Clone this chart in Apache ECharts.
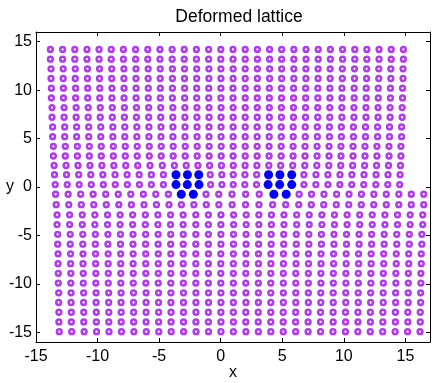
<!DOCTYPE html>
<html>
<head>
<meta charset="utf-8">
<script src="https://cdn.jsdelivr.net/npm/echarts@6/dist/echarts.min.js"></script>
<style>
  html, body { margin: 0; padding: 0; background: #fff; }
  #main { width: 436px; height: 383px; }
</style>
</head>
<body>
<div id="main"></div>
<script>
// Tick labels
const xTicks = [-15, -10, -5, 0, 5, 10, 15];
const yTicks = [-15, -10, -5, 0, 5, 10, 15];

// Row heights, top half then bottom half
const upperRowsY = [14.2, 13.2, 12.2, 11.2, 10.2, 9.2, 8.2, 7.2, 6.2, 5.2, 4.2, 3.2, 2.22, 1.27, 0.25];
const lowerRowsY = [-0.75, -1.82, -2.87, -3.88, -4.89, -5.9, -6.9, -7.91, -8.91, -9.92, -10.92, -11.92, -12.93, -13.93, -14.93];

// Atom x positions in each row
const upperRowsX = [
  [-13.83,-12.84,-11.85,-10.86,-9.88,-8.89,-7.90,-6.91,-5.92,-4.93,-3.94,-2.96,-1.97,-0.98,0.01,1.00,1.99,2.98,3.97,4.95,5.94,6.93,7.92,8.91,9.90,10.89,11.87,12.86,13.85,14.84],
  [-13.83,-12.84,-11.85,-10.86,-9.88,-8.89,-7.90,-6.91,-5.92,-4.93,-3.94,-2.96,-1.97,-0.98,0.01,1.00,1.99,2.98,3.97,4.95,5.94,6.93,7.92,8.91,9.90,10.89,11.87,12.86,13.85,14.84],
  [-13.78,-12.79,-11.81,-10.82,-9.84,-8.85,-7.86,-6.88,-5.89,-4.91,-3.92,-2.94,-1.95,-0.96,0.02,1.01,1.99,2.98,3.97,4.95,5.94,6.92,7.91,8.89,9.88,10.87,11.85,12.84,13.82,14.81],
  [-13.78,-12.79,-11.81,-10.82,-9.84,-8.85,-7.86,-6.88,-5.89,-4.91,-3.92,-2.94,-1.95,-0.96,0.02,1.01,1.99,2.98,3.97,4.95,5.94,6.92,7.91,8.89,9.88,10.87,11.85,12.84,13.82,14.81],
  [-13.75,-12.77,-11.78,-10.80,-9.82,-8.83,-7.85,-6.87,-5.88,-4.90,-3.92,-2.93,-1.95,-0.97,0.02,1.00,1.99,2.97,3.95,4.94,5.92,6.90,7.89,8.87,9.85,10.84,11.82,12.80,13.79,14.77],
  [-13.75,-12.77,-11.78,-10.80,-9.82,-8.83,-7.85,-6.87,-5.88,-4.90,-3.92,-2.93,-1.95,-0.97,0.02,1.00,1.99,2.97,3.95,4.94,5.92,6.90,7.89,8.87,9.85,10.84,11.82,12.80,13.79,14.77],
  [-13.70,-12.72,-11.74,-10.76,-9.78,-8.80,-7.82,-6.84,-5.85,-4.87,-3.89,-2.91,-1.93,-0.95,0.03,1.01,1.99,2.97,3.95,4.93,5.91,6.89,7.88,8.86,9.84,10.82,11.80,12.78,13.76,14.74],
  [-13.70,-12.72,-11.74,-10.76,-9.78,-8.80,-7.82,-6.84,-5.85,-4.87,-3.89,-2.91,-1.93,-0.95,0.03,1.01,1.99,2.97,3.95,4.93,5.91,6.89,7.88,8.86,9.84,10.82,11.80,12.78,13.76,14.74],
  [-13.65,-12.67,-11.70,-10.72,-9.74,-8.76,-7.79,-6.81,-5.83,-4.85,-3.88,-2.90,-1.92,-0.95,0.03,1.01,1.99,2.96,3.94,4.92,5.89,6.87,7.85,8.83,9.80,10.78,11.76,12.74,13.71,14.69],
  [-13.65,-12.67,-11.70,-10.72,-9.74,-8.76,-7.79,-6.81,-5.83,-4.85,-3.88,-2.90,-1.92,-0.95,0.03,1.01,1.99,2.96,3.94,4.92,5.89,6.87,7.85,8.83,9.80,10.78,11.76,12.74,13.71,14.69],
  [-13.59,-12.62,-11.64,-10.67,-9.70,-8.72,-7.75,-6.78,-5.80,-4.83,-3.86,-2.88,-1.91,-0.94,0.04,1.01,1.99,2.96,3.93,4.91,5.88,6.85,7.83,8.80,9.77,10.75,11.72,12.69,13.67,14.64],
  [-13.59,-12.62,-11.64,-10.67,-9.70,-8.72,-7.75,-6.78,-5.80,-4.83,-3.86,-2.88,-1.91,-0.94,0.04,1.01,1.99,2.96,3.93,4.91,5.88,6.85,7.83,8.80,9.77,10.75,11.72,12.69,13.67,14.64],
  [-13.53,-12.56,-11.59,-10.62,-9.65,-8.68,-7.71,-6.74,-5.74,-4.74,-3.76,-2.80,-1.85,-0.90,0.06,1.02,1.98,2.94,3.91,4.87,5.85,6.83,7.81,8.78,9.75,10.72,11.69,12.66,13.63,14.60],
  [-13.50,-12.52,-11.53,-10.55,-9.57,-8.58,-7.60,-6.62,-5.63,-4.65,-3.63,-2.70,-1.78,-0.85,0.09,1.02,1.97,2.92,3.89,4.81,5.77,6.76,7.74,8.71,9.69,10.66,11.64,12.62,13.59,14.57],
  [-13.44,-12.46,-11.49,-10.51,-9.53,-8.56,-7.58,-6.60,-5.63,-4.65,-3.63,-2.71,-1.76,-0.82,0.10,1.02,1.96,2.91,3.85,4.79,5.77,6.76,7.73,8.71,9.68,10.65,11.62,12.60,13.57,14.54]
];
const lowerRowsX = [
  [-13.41,-12.39,-11.37,-10.36,-9.34,-8.32,-7.30,-6.28,-5.27,-4.25,-3.20,-2.22,-1.19,-0.16,0.92,2.03,3.13,4.32,5.32,6.37,7.38,8.39,9.41,10.42,11.43,12.44,13.45,14.47,15.48,16.49],
  [-13.36,-12.34,-11.32,-10.31,-9.29,-8.27,-7.25,-6.23,-5.22,-4.20,-3.19,-2.18,-1.17,-0.15,0.93,2.02,3.11,4.22,5.28,6.34,7.36,8.37,9.39,10.40,11.42,12.43,13.45,14.46,15.48,16.49],
  [-13.29,-12.27,-11.24,-10.22,-9.19,-8.17,-7.15,-6.12,-5.10,-4.07,-3.05,-2.02,-1.00,0.02,1.05,2.07,3.10,4.12,5.14,6.17,7.19,8.22,9.24,10.27,11.29,12.31,13.34,14.36,15.39,16.41],
  [-13.29,-12.27,-11.24,-10.22,-9.19,-8.17,-7.15,-6.12,-5.10,-4.07,-3.05,-2.02,-1.00,0.02,1.05,2.07,3.10,4.12,5.14,6.17,7.19,8.22,9.24,10.27,11.29,12.31,13.34,14.36,15.39,16.41],
  [-13.24,-12.22,-11.20,-10.18,-9.16,-8.14,-7.12,-6.10,-5.08,-4.06,-3.04,-2.02,-1.00,0.02,1.04,2.06,3.08,4.10,5.12,6.14,7.16,8.18,9.20,10.22,11.24,12.26,13.28,14.30,15.32,16.34],
  [-13.24,-12.22,-11.20,-10.18,-9.16,-8.14,-7.12,-6.10,-5.08,-4.06,-3.04,-2.02,-1.00,0.02,1.04,2.06,3.08,4.10,5.12,6.14,7.16,8.18,9.20,10.22,11.24,12.26,13.28,14.30,15.32,16.34],
  [-13.21,-12.19,-11.18,-10.16,-9.14,-8.12,-7.11,-6.09,-5.07,-4.05,-3.04,-2.02,-1.00,0.01,1.03,2.05,3.07,4.08,5.10,6.12,7.13,8.15,9.17,10.19,11.20,12.22,13.24,14.26,15.27,16.29],
  [-13.21,-12.19,-11.18,-10.16,-9.14,-8.12,-7.11,-6.09,-5.07,-4.05,-3.04,-2.02,-1.00,0.01,1.03,2.05,3.07,4.08,5.10,6.12,7.13,8.15,9.17,10.19,11.20,12.22,13.24,14.26,15.27,16.29],
  [-13.19,-12.17,-11.16,-10.14,-9.13,-8.11,-7.10,-6.08,-5.07,-4.05,-3.03,-2.02,-1.00,0.01,1.03,2.04,3.06,4.07,5.09,6.10,7.12,8.14,9.15,10.17,11.18,12.20,13.21,14.23,15.24,16.26],
  [-13.19,-12.17,-11.16,-10.14,-9.13,-8.11,-7.10,-6.08,-5.07,-4.05,-3.03,-2.02,-1.00,0.01,1.03,2.04,3.06,4.07,5.09,6.10,7.12,8.14,9.15,10.17,11.18,12.20,13.21,14.23,15.24,16.26],
  [-13.16,-12.15,-11.13,-10.12,-9.10,-8.09,-7.08,-6.06,-5.05,-4.04,-3.02,-2.01,-0.99,0.02,1.03,2.05,3.06,4.07,5.09,6.10,7.12,8.13,9.14,10.16,11.17,12.18,13.20,14.21,15.23,16.24],
  [-13.16,-12.15,-11.13,-10.12,-9.10,-8.09,-7.08,-6.06,-5.05,-4.04,-3.02,-2.01,-0.99,0.02,1.03,2.05,3.06,4.07,5.09,6.10,7.12,8.13,9.14,10.16,11.17,12.18,13.20,14.21,15.23,16.24],
  [-13.14,-12.13,-11.12,-10.10,-9.09,-8.08,-7.07,-6.06,-5.04,-4.03,-3.02,-2.01,-1.00,0.02,1.03,2.04,3.05,4.07,5.08,6.09,7.10,8.11,9.13,10.14,11.15,12.16,13.17,14.19,15.20,16.21],
  [-13.14,-12.13,-11.12,-10.10,-9.09,-8.08,-7.07,-6.06,-5.04,-4.03,-3.02,-2.01,-1.00,0.02,1.03,2.04,3.05,4.07,5.08,6.09,7.10,8.11,9.13,10.14,11.15,12.16,13.17,14.19,15.20,16.21],
  [-13.11,-12.10,-11.09,-10.08,-9.07,-8.06,-7.05,-6.04,-5.03,-4.02,-3.01,-2.00,-0.99,0.02,1.03,2.05,3.06,4.07,5.08,6.09,7.10,8.11,9.12,10.13,11.14,12.15,13.16,14.17,15.18,16.19]
];

// Dislocation core atoms (blue)
const coreX = [-3.63, -2.70, -1.78, -3.63, -2.71, -1.76, -3.20, -2.22,
               3.89, 4.81, 5.77, 3.85, 4.79, 5.77, 4.32, 5.32];
const coreY = [1.27, 1.27, 1.27, 0.25, 0.25, 0.25, -0.75, -0.75,
               1.27, 1.27, 1.27, 0.25, 0.25, 0.25, -0.75, -0.75];

var core = coreX.map((x, i) => [x, coreY[i]]);
function isCore(x, y) {
  return core.some((p) => p[0] === x && p[1] === y);
}

var lattice = [];
function addRows(rowsX, rowsY) {
  rowsX.forEach((xs, r) => {
    xs.forEach((x) => {
      if (!isCore(x, rowsY[r])) lattice.push([x, rowsY[r]]);
    });
  });
}
addRows(upperRowsX, upperRowsY);
addRows(lowerRowsX, lowerRowsY);

var myChart = echarts.init(document.getElementById("main"));

var font = "Liberation Sans";
// box frame: axis lines stay on the grid edges
var frameLine = { show: true, onZero: false, lineStyle: { color: "#000", width: 1 } };

var option = {
  animation: false,
  title: {
    text: "Deformed lattice",
    left: 234,
    top: 3,
    textAlign: "center",
    textStyle: { fontFamily: font, fontSize: 17.5, fontWeight: "normal", color: "#000" },
  },
  grid: { left: 36, right: 6, top: 32, bottom: 41, outerBoundsMode: "none" },
  xAxis: [
    {
      type: "value",
      min: -15,
      max: 17,
      position: "bottom",
      name: "x",
      nameLocation: "middle",
      nameGap: 23,
      nameMoveOverlap: false,
      nameTextStyle: { fontFamily: font, fontSize: 16, color: "#000" },
      axisLine: frameLine,
      axisTick: { inside: true, length: 4, customValues: xTicks, lineStyle: { color: "#000" } },
      axisLabel: { customValues: xTicks, margin: 7, fontFamily: font, fontSize: 16, color: "#000" },
      splitLine: { show: false },
    },
    {
      type: "value",
      min: -15,
      max: 17,
      position: "top",
      axisLine: frameLine,
      axisTick: { inside: true, length: 4, customValues: xTicks, lineStyle: { color: "#000" } },
      axisLabel: { show: false },
      splitLine: { show: false },
    },
  ],
  yAxis: [
    {
      type: "value",
      min: -16,
      max: 16,
      position: "left",
      name: "y",
      nameLocation: "middle",
      nameRotate: 0,
      nameGap: 22,
      nameMoveOverlap: false,
      nameTextStyle: { fontFamily: font, fontSize: 16, color: "#000" },
      axisLine: frameLine,
      axisTick: { inside: true, length: 4, customValues: yTicks, lineStyle: { color: "#000" } },
      axisLabel: { customValues: yTicks, margin: 4, fontFamily: font, fontSize: 16, color: "#000" },
      splitLine: { show: false },
    },
    {
      type: "value",
      min: -16,
      max: 16,
      position: "right",
      axisLine: frameLine,
      axisTick: { inside: true, length: 4, customValues: yTicks, lineStyle: { color: "#000" } },
      axisLabel: { show: false },
      splitLine: { show: false },
    },
  ],
  series: [
    {
      name: "lattice",
      type: "scatter",
      data: lattice,
      symbol: "circle",
      symbolSize: 4.8,
      itemStyle: { color: "#fff", borderColor: "#b03af2", borderWidth: 2.5, opacity: 1 },
    },
    {
      name: "core",
      type: "scatter",
      data: core,
      symbol: "circle",
      symbolSize: 9,
      itemStyle: { color: "#0000ff", opacity: 1 },
      z: 3,
    },
  ],
};

myChart.setOption(option);
</script>
</body>
</html>
